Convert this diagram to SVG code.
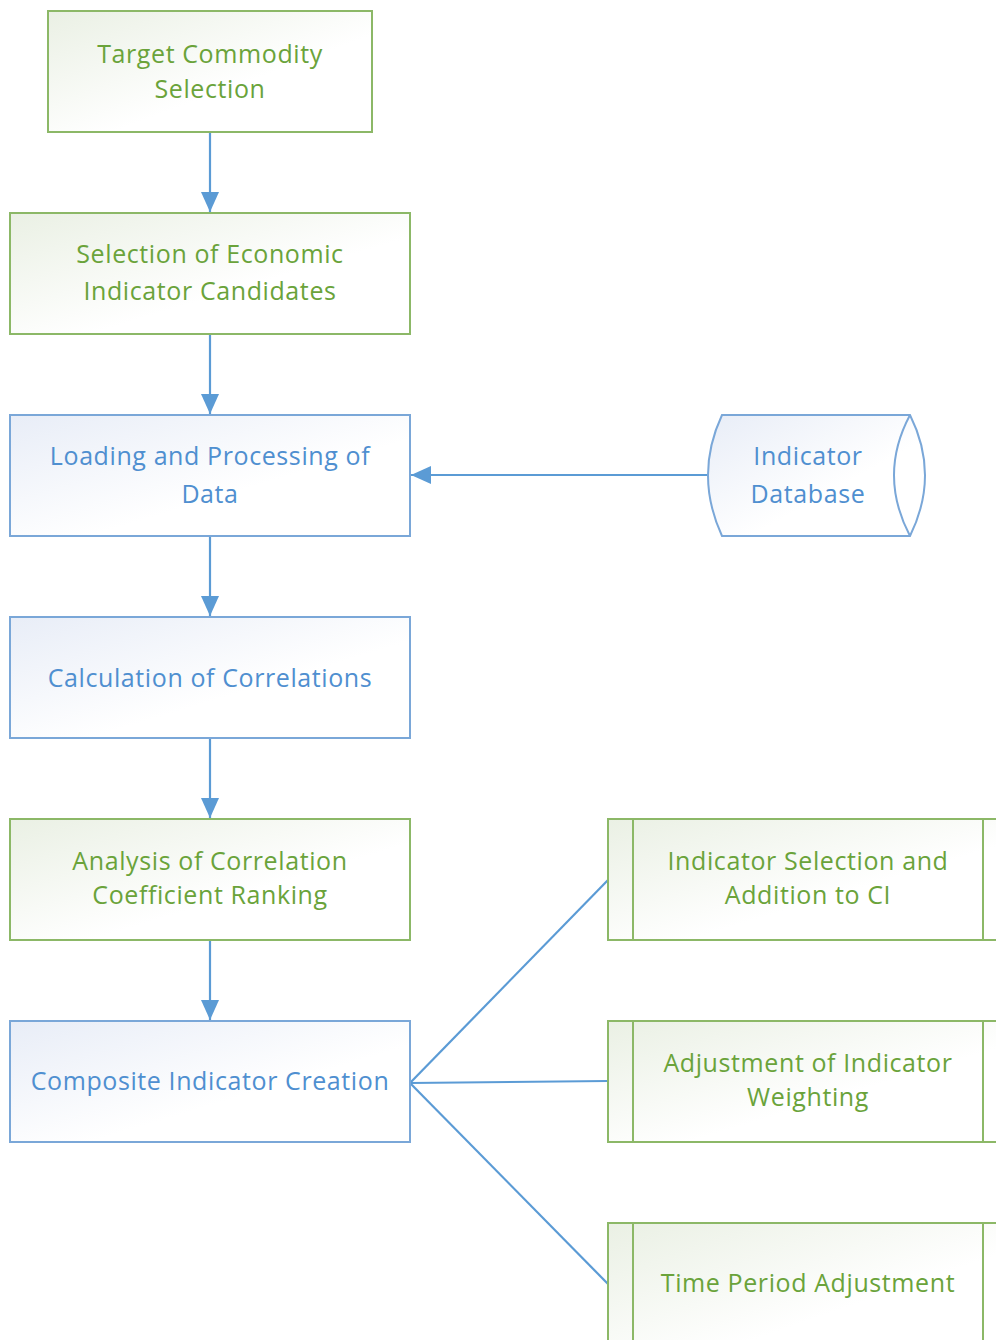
<svg xmlns="http://www.w3.org/2000/svg" width="996" height="1340" viewBox="0 0 996 1340">
<defs>
<linearGradient id="gg" x1="0" y1="0" x2="1" y2="1"><stop offset="0" stop-color="#eaf0e4"/><stop offset="0.6" stop-color="#ffffff"/></linearGradient>
<linearGradient id="bg" x1="0" y1="0" x2="1" y2="1"><stop offset="0" stop-color="#e8edf7"/><stop offset="0.6" stop-color="#ffffff"/></linearGradient>
<marker id="ah" markerWidth="20" markerHeight="20" viewBox="0 0 20 20" refX="20" refY="10" orient="auto" markerUnits="userSpaceOnUse"><path d="M0,1 L20,10 L0,19 Z" fill="#5b9bd5"/></marker>
<style>
.g{fill:url(#gg);stroke:#8cb867;stroke-width:2}
.b{fill:url(#bg);stroke:#7aa7d8;stroke-width:2}
.tg{fill:#6aa33a;font-family:"Open Sans","Noto Sans",sans-serif;font-size:25px;letter-spacing:0.6px;text-anchor:middle}
.tb{fill:#4f8fd0;font-family:"Open Sans","Noto Sans",sans-serif;font-size:25px;letter-spacing:0.6px;text-anchor:middle}
.c{stroke:#5b9bd5;stroke-width:2.2;fill:none}
</style>
</defs>
<g id="connectors">
<line class="c" x1="210" y1="132" x2="210" y2="212" marker-end="url(#ah)"/>
<line class="c" x1="210" y1="334" x2="210" y2="414" marker-end="url(#ah)"/>
<line class="c" x1="210" y1="536" x2="210" y2="616" marker-end="url(#ah)"/>
<line class="c" x1="210" y1="738" x2="210" y2="818" marker-end="url(#ah)"/>
<line class="c" x1="210" y1="940" x2="210" y2="1020" marker-end="url(#ah)"/>
<line class="c" x1="707" y1="475" x2="411" y2="475" marker-end="url(#ah)"/>
<line class="c" x1="410" y1="1083" x2="608" y2="880"/>
<line class="c" x1="410" y1="1083" x2="608" y2="1081"/>
<line class="c" x1="410" y1="1083" x2="608" y2="1284"/>
</g>
<g id="n1"><rect class="g" x="48" y="11" width="324" height="121"/><text class="tg" x="210" y="63">Target Commodity</text><text class="tg" x="210" y="98">Selection</text></g>
<g id="n2"><rect class="g" x="10" y="213" width="400" height="121"/><text class="tg" x="210" y="263">Selection of Economic</text><text class="tg" x="210" y="300">Indicator Candidates</text></g>
<g id="n3"><rect class="b" x="10" y="415" width="400" height="121"/><text class="tb" x="210" y="465">Loading and Processing of</text><text class="tb" x="210" y="503">Data</text></g>
<g id="n4"><rect class="b" x="10" y="617" width="400" height="121"/><text class="tb" x="210" y="687">Calculation of Correlations</text></g>
<g id="n5"><rect class="g" x="10" y="819" width="400" height="121"/><text class="tg" x="210" y="870">Analysis of Correlation</text><text class="tg" x="210" y="904">Coefficient Ranking</text></g>
<g id="n6"><rect class="b" x="10" y="1021" width="400" height="121"/><text class="tb" x="210" y="1090">Composite Indicator Creation</text></g>
<g id="db"><path class="b" d="M722,415 L910,415 Q940,475 910,536 L722,536 Q694,475 722,415 Z"/><path class="c" style="stroke:#7aa7d8;stroke-width:2" d="M910,415 Q878,475 910,536"/><text class="tb" x="808" y="465">Indicator</text><text class="tb" x="808" y="503">Database</text></g>
<g id="r1"><rect class="g" x="608" y="819" width="400" height="121"/><line class="g" x1="633" y1="819" x2="633" y2="940"/><line class="g" x1="983" y1="819" x2="983" y2="940"/><text class="tg" x="808" y="870">Indicator Selection and</text><text class="tg" x="808" y="904">Addition to CI</text></g>
<g id="r2"><rect class="g" x="608" y="1021" width="400" height="121"/><line class="g" x1="633" y1="1021" x2="633" y2="1142"/><line class="g" x1="983" y1="1021" x2="983" y2="1142"/><text class="tg" x="808" y="1072">Adjustment of Indicator</text><text class="tg" x="808" y="1106">Weighting</text></g>
<g id="r3"><rect class="g" x="608" y="1223" width="400" height="140"/><line class="g" x1="633" y1="1223" x2="633" y2="1360"/><line class="g" x1="983" y1="1223" x2="983" y2="1360"/><text class="tg" x="808" y="1292">Time Period Adjustment</text></g>
</svg>
